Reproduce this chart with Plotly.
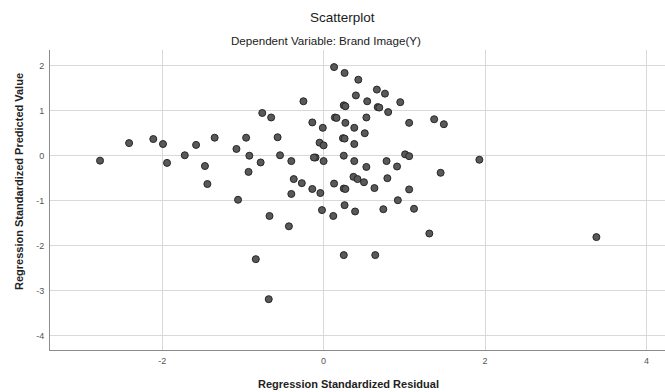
import plotly.graph_objects as go

# Regression standardized residual (x) and predicted value (y)
residual = [
    -2.77, -2.41, -2.11, -1.99, -1.94, -1.72, -1.58, -1.47, -1.44, -1.35,
    -1.08, -1.06, -0.96, -0.92, -0.93, -0.78, -0.76, -0.65, -0.57, -0.54,
    -0.40, -0.37, -0.40, -0.27, -0.25, -0.14, -0.14, -0.10, -0.12, -0.05,
    -0.04, -0.01, 0.00, 0.00, -0.02, -0.67,
    0.13, 0.26, 0.43, 0.66, 0.76, 0.40, 0.54, 0.95, 0.25, 0.27,
    0.67, 0.69, 0.80, 0.14, 0.16, 0.53, 0.27, 1.06, 1.37, 1.49,
    0.38, 0.51, 0.24, 0.26, 0.38, 0.25, 0.38, 0.53, 0.78, 0.91,
    1.01, 1.06, 1.93, 1.45, 0.37, 0.42, 0.50, 0.79, 0.13, 0.25,
    0.27, 0.63, 1.06, 0.92, 0.26, 0.39, 0.74, 1.12, 0.12,
    -0.43, -0.84, -0.68, 1.31, 3.38, 0.25, 0.64,
]
predicted = [
    -0.11, 0.28, 0.37, 0.26, -0.16, 0.01, 0.24, -0.23, -0.63, 0.40,
    0.15, -0.98, 0.40, 0.00, -0.36, -0.15, 0.95, 0.85, 0.41, 0.01,
    -0.12, -0.52, -0.85, -0.61, 1.21, 0.74, -0.74, -0.04, -0.04, 0.29,
    -0.83, 0.62, 0.23, -0.12, -1.21, -1.34,
    1.97, 1.84, 1.69, 1.47, 1.38, 1.34, 1.21, 1.19, 1.12, 1.10,
    1.08, 1.07, 0.97, 0.85, 0.84, 0.85, 0.73, 0.73, 0.81, 0.70,
    0.62, 0.50, 0.39, 0.38, 0.26, 0.00, -0.12, -0.25, -0.12, -0.24,
    0.03, -0.01, -0.09, -0.38, -0.47, -0.52, -0.59, -0.50, -0.62, -0.73,
    -0.74, -0.72, -0.75, -0.99, -1.10, -1.24, -1.19, -1.18, -1.34,
    -1.57, -2.30, -3.19, -1.73, -1.81, -2.21, -2.21,
]

x_ticks = [-2, 0, 2, 4]
x_tick_labels = ["-2", "0", "2", "4"]
y_ticks = [-4, -3, -2, -1, 0, 1, 2]
y_tick_labels = ["-4", "-3", "-2", "-1", "0", "1", "2"]

title = "Scatterplot"
subtitle = "Dependent Variable: Brand Image(Y)"
x_title = "Regression Standardized Residual"
y_title = "Regression Standardized Predicted Value"

FONT = "Liberation Sans, Arial, sans-serif"
W, H = 665, 392
ML, MR, MT, MB = 50, 0, 50, 42


def px(xp):
    return (xp - ML) / (W - ML - MR)


def py(yp):
    return (H - MB - yp) / (H - MT - MB)


fig = go.Figure(
    go.Scatter(
        x=residual,
        y=predicted,
        mode="markers",
        marker=dict(size=7, color="#595959", line=dict(color="#262626", width=1)),
        hoverinfo="x+y",
    )
)

fig.update_layout(
    width=W,
    height=H,
    margin=dict(l=ML, r=MR, t=MT, b=MB),
    paper_bgcolor="white",
    plot_bgcolor="white",
    showlegend=False,
    font=dict(family=FONT, color="#222"),
    xaxis=dict(
        range=[-3.39, 4.23],
        tickvals=x_ticks,
        ticktext=x_tick_labels,
        showgrid=True,
        gridcolor="#d9d9d9",
        gridwidth=1,
        zeroline=False,
        showline=True,
        linecolor="#8c8c8c",
        linewidth=1,
        ticks="",
        tickfont=dict(size=9, color="#555"),
        ticklabelstandoff=2,
    ),
    yaxis=dict(
        range=[-4.32, 2.35],
        tickvals=y_ticks,
        ticktext=y_tick_labels,
        showgrid=True,
        gridcolor="#d9d9d9",
        gridwidth=1,
        zeroline=False,
        showline=True,
        linecolor="#8c8c8c",
        linewidth=1,
        ticks="",
        tickfont=dict(size=9, color="#555"),
        ticklabelstandoff=3,
    ),
    annotations=[
        dict(text=title, xref="paper", yref="paper",
             x=px(342), y=py(17.5), xanchor="center", yanchor="middle",
             showarrow=False, font=dict(size=13.5, color="#1a1a1a")),
        dict(text=subtitle, xref="paper", yref="paper",
             x=px(325.5), y=py(41), xanchor="center", yanchor="middle",
             showarrow=False, font=dict(size=11.6, color="#1a1a1a")),
        dict(text="<b>%s</b>" % x_title, xref="paper", yref="paper",
             x=px(348), y=py(384), xanchor="center", yanchor="middle",
             showarrow=False, font=dict(size=11, color="#222")),
        dict(text="<b>%s</b>" % y_title, xref="paper", yref="paper",
             x=px(19), y=py(182), xanchor="center", yanchor="middle",
             textangle=-90, showarrow=False, font=dict(size=11, color="#222")),
    ],
)

fig.write_html(
    "out.html",
    config={"displayModeBar": False},
    post_script="document.body.style.margin='0';document.body.style.padding='0';",
)
